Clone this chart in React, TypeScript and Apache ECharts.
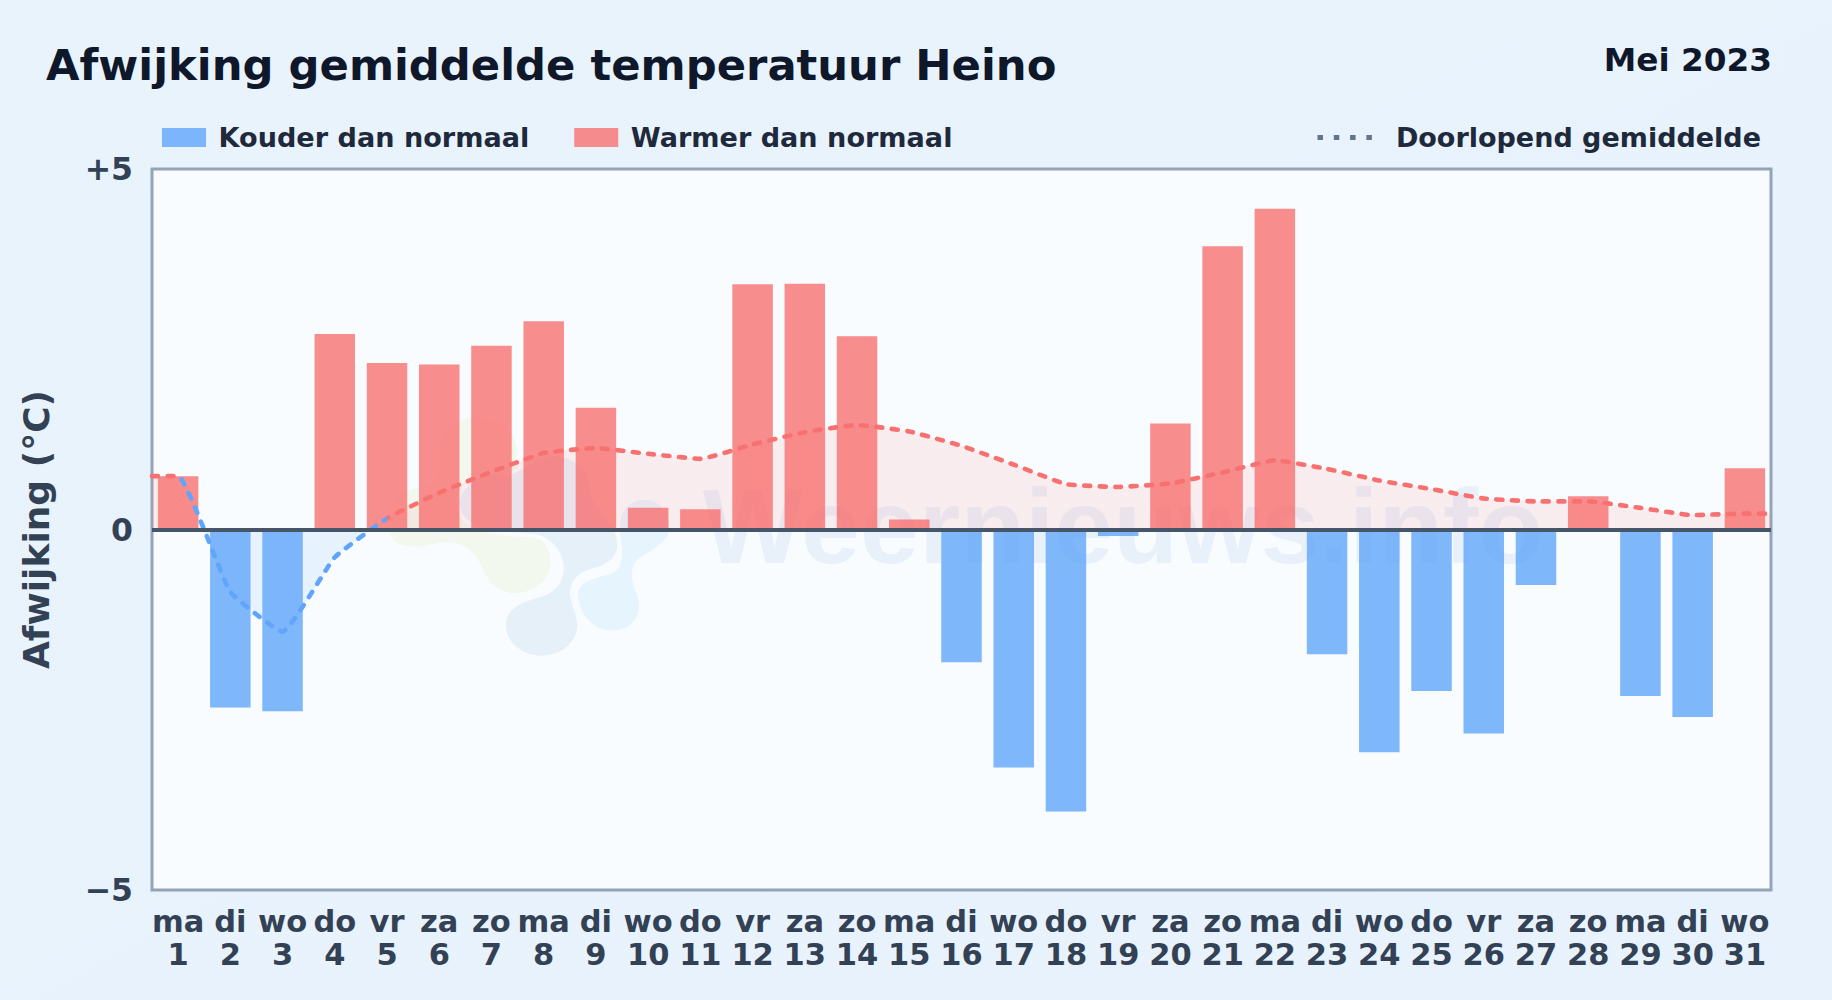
import React, { useEffect, useRef } from "react";
import * as echarts from "echarts";

const weekdays = ["ma","di","wo","do","vr","za","zo","ma","di","wo","do","vr","za","zo","ma","di","wo","do","vr","za","zo","ma","di","wo","do","vr","za","zo","ma","di","wo"];
const days = [1,2,3,4,5,6,7,8,9,10,11,12,13,14,15,16,17,18,19,20,21,22,23,24,25,26,27,28,29,30,31];
const deviations = [0.74,-2.47,-2.52,2.71,2.31,2.29,2.55,2.89,1.69,0.30,0.28,3.40,3.41,2.68,0.14,-1.84,-3.30,-3.91,-0.09,1.47,3.93,4.45,-1.73,-3.09,-2.24,-2.83,-0.77,0.46,-2.31,-2.60,0.85];
const runningMean = [0.74,-0.865,-1.417,-0.385,0.154,0.51,0.80,1.06,1.13,1.05,0.98,1.18,1.35,1.45,1.36,1.16,0.90,0.63,0.59,0.64,0.79,0.96,0.84,0.68,0.56,0.43,0.39,0.39,0.30,0.20,0.22];

const GRID = { left: 152, top: 169, width: 1619, height: 721 };
const NAMES = { cold: "Kouder dan normaal", warm: "Warmer dan normaal", mean: "Doorlopend gemiddelde" };
const INK = "#334155";
const DOTS_ICON = "path://M0 0h5.5v5h-5.5z M16.3 0h5.5v5h-5.5z M32.6 0h5.5v5h-5.5z M48.9 0h5.5v5h-5.5z";

const GREEN_BLOB = "M 90 430 C 70 370 110 300 170 295 C 230 290 240 260 240 200 C 240 110 300 75 360 85 C 440 95 480 140 470 200 C 480 300 520 420 560 470 C 590 520 570 590 480 610 C 420 615 385 580 365 530 C 345 480 300 450 240 458 C 180 475 100 480 90 430 Z";
const DARK_BLOB = "M 300 340 C 300 290 370 245 430 255 C 480 265 510 200 580 200 C 640 200 690 240 690 300 C 690 340 750 390 770 440 C 785 490 750 525 700 535 C 660 545 630 570 630 610 C 635 650 655 680 652 715 C 645 770 590 798 545 798 C 490 798 438 760 438 705 C 438 655 490 635 540 622 C 590 610 615 570 612 525 C 605 470 560 430 500 430 C 420 425 300 420 300 340 Z";
const LIGHT_BLOB = "M 655 615 C 655 580 700 565 745 555 C 790 545 790 500 785 460 C 775 400 780 340 845 330 C 900 325 930 370 930 415 C 930 450 880 480 845 500 C 810 520 810 570 830 610 C 850 650 835 722 755 722 C 700 722 655 670 655 615 Z";
echarts.graphic.registerShape("greenBlob", echarts.graphic.extendPath(GREEN_BLOB, {}));
echarts.graphic.registerShape("darkBlob", echarts.graphic.extendPath(DARK_BLOB, {}));
echarts.graphic.registerShape("lightBlob", echarts.graphic.extendPath(LIGHT_BLOB, {}));

export default function App() {
  const ref = useRef<HTMLDivElement>(null);
  useEffect(() => {
    const chart = echarts.init(ref.current!, undefined, { renderer: "svg" });
    const G = echarts.graphic.LinearGradient;
    const x0 = GRID.left, x1 = GRID.left + GRID.width;
    const slot = GRID.width / 31;
    const f1 = (0.5 * slot) / GRID.width;
    const f5 = (4.5 * slot) / GRID.width;
    const lineColor = new G(x0, 0, x1, 0, [
      { offset: 0, color: "#f87171" }, { offset: f1, color: "#f87171" },
      { offset: f1, color: "#60a5fa" }, { offset: f5, color: "#60a5fa" },
      { offset: f5, color: "#f87171" }, { offset: 1, color: "#f87171" },
    ], true);
    const areaColor = new G(0, GRID.top, 0, GRID.top + GRID.height, [
      { offset: 0, color: "rgba(248,113,113,0.16)" }, { offset: 0.5, color: "rgba(248,113,113,0.16)" },
      { offset: 0.5, color: "rgba(96,165,250,0.16)" }, { offset: 1, color: "rgba(96,165,250,0.16)" },
    ], true);
    const blob = (type: string, style: object) => ({
      type, x: 360, y: 390, scaleX: 1 / 3, scaleY: 1 / 3, z: 1, silent: true, style,
    });
    const lineData: number[][] = [
      [days[0] - 0.5, runningMean[0]],
      ...days.map((d, i) => [d, runningMean[i]]),
      [days[30] + 0.5, runningMean[30]],
    ];
    chart.setOption({
      animation: false,
      backgroundColor: new G(0, 0, 1, 1, [{ offset: 0, color: "#e9f3fc" }, { offset: 1, color: "#e7f2fc" }]),
      textStyle: { fontFamily: "DejaVu Sans" },
      title: [
        { text: "Afwijking gemiddelde temperatuur Heino", left: 41, top: 38, textStyle: { fontFamily: "DejaVu Sans", fontWeight: "bold", fontSize: 43.3, color: "#0f172a" } },
        { text: "Mei 2023", right: 55, top: 38, textStyle: { fontFamily: "DejaVu Sans", fontWeight: "bold", fontSize: 32.7, color: "#0f172a" } },
      ],
      legend: [
        {
          left: 157, top: 119, itemWidth: 44, itemHeight: 19, itemGap: 45, selectedMode: false, icon: "rect",
          textStyle: { fontFamily: "DejaVu Sans", fontWeight: "bold", fontSize: 27.1, color: "#1e293b", padding: [0, 0, 0, 7.5] },
          data: [NAMES.cold, NAMES.warm],
        },
        {
          right: 66, top: 119, itemWidth: 54.4, itemHeight: 5, selectedMode: false,
          textStyle: { fontFamily: "DejaVu Sans", fontWeight: "bold", fontSize: 27, color: "#1e293b", padding: [0, 0, 0, 19] },
          data: [{ name: NAMES.mean, icon: DOTS_ICON, itemStyle: { color: "#64748b", opacity: 1 } }],
        },
      ],
      grid: { ...GRID, show: true, backgroundColor: "#f8fcff", borderColor: "#94a3b8", borderWidth: 3, containLabel: false },
      xAxis: [
        {
          type: "category", data: days, position: "bottom",
          axisLine: { show: false }, axisTick: { show: false },
          axisLabel: {
            interval: 0, margin: 15, hideOverlap: false, fontFamily: "DejaVu Sans", fontWeight: "bold", fontSize: 30.5, lineHeight: 33, color: INK,
            formatter: (v: string, i: number) => `${weekdays[i]}\n${v}`,
          },
        },
        { type: "value", min: 0.5, max: 31.5, show: false, splitLine: { show: false } },
      ],
      yAxis: {
        type: "value", min: -5, max: 5, interval: 5,
        name: "Afwijking (°C)", nameLocation: "middle", nameGap: 98, nameRotate: 90,
        nameTextStyle: { fontFamily: "DejaVu Sans", fontWeight: "bold", fontSize: 36, color: INK },
        axisLine: { show: false }, axisTick: { show: false }, splitLine: { show: false },
        axisLabel: {
          margin: 19, fontFamily: "DejaVu Sans", fontWeight: "bold", fontSize: 31.5, color: INK, padding: [5, 0, 0, 0],
          formatter: (v: number) => (v > 0 ? `+${v}` : v < 0 ? `−${-v}` : "0"),
        },
      },
      graphic: {
        elements: [
          blob("greenBlob", { fill: "#f3f8ee" }),
          blob("darkBlob", { fill: "none", stroke: "#f8fcff", lineWidth: 24 }),
          blob("darkBlob", { fill: "#e6f0f9" }),
          blob("lightBlob", { fill: "none", stroke: "#f8fcff", lineWidth: 24 }),
          blob("lightBlob", { fill: "#e6f4fe" }),
          {
            type: "text", x: 1123, y: 526, z: 1, silent: true,
            style: { text: "Weernieuws.info", fontFamily: "Liberation Sans", fontWeight: "bold", fontSize: 106, fill: "#e8f1fa", textAlign: "center", textVerticalAlign: "middle" },
          },
        ],
      },
      series: [
        {
          name: NAMES.cold, type: "bar", barWidth: 40.5, barGap: "-100%", z: 2,
          itemStyle: { color: "#60a5fa", opacity: 0.8 },
          data: deviations.map((v) => (v < 0 ? v : null)),
        },
        {
          name: NAMES.warm, type: "bar", barWidth: 40.5, barGap: "-100%", z: 2,
          itemStyle: { color: "#f87171", opacity: 0.8 },
          data: deviations.map((v) => (v >= 0 ? v : null)),
        },
        {
          name: NAMES.mean, type: "line", xAxisIndex: 1, smooth: 0.12, showSymbol: false, symbol: "none", z: 4,
          lineStyle: { color: lineColor, width: 4.6, type: [6, 9.5], cap: "round" },
          itemStyle: { color: "#64748b" },
          areaStyle: { color: areaColor, origin: "auto" },
          data: lineData,
          markLine: {
            silent: true, symbol: "none", z: 5, animation: false, label: { show: false },
            lineStyle: { color: "#475569", width: 4, type: "solid" },
            data: [{ yAxis: 0 }],
          },
        },
      ],
    });
    return () => chart.dispose();
  }, []);
  return <div ref={ref} style={{ position: "fixed", left: 0, top: 0, width: 1832, height: 1000 }} />;
}
